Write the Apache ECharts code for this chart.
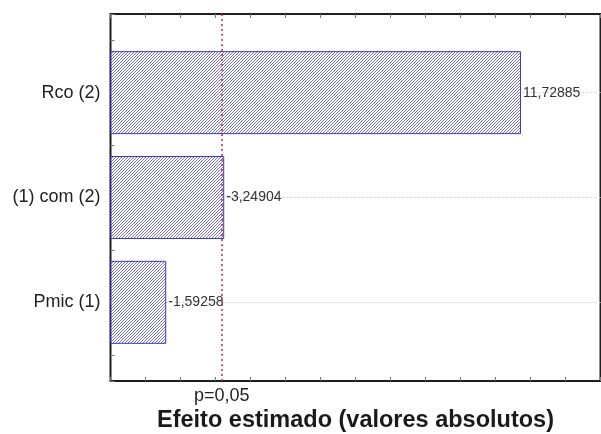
<!DOCTYPE html>
<html>
<head>
<meta charset="utf-8">
<script src="https://cdn.jsdelivr.net/npm/echarts@6/dist/echarts.min.js"></script>
<style>
  html, body { margin: 0; padding: 0; background: #fff; }
  #chart { width: 601px; height: 434px; }
</style>
</head>
<body>
<div id="chart"></div>
<script>
// Pareto chart of standardized effects
const factors = ['Pmic (1)', '(1) com (2)', 'Rco (2)'];
const effects = [-1.59258, -3.24904, 11.72885];
const pCritical = 3.182;          // t(0.025; 3 g.l.)
const pLabel = 'p=0,05';
const xMin = 0, xMax = 14, xStep = 1;
const axisTitle = 'Efeito estimado (valores absolutos)';

// Each factor sits on every 4th slot of the vertical axis so ticks fall every quarter step
const SUB = 4, FIRST = 3;
const slotCount = FIRST * 2 + (factors.length - 1) * SUB + 1;
const slotNames = [];
const barData = [];
const isFactorSlot = i => i >= FIRST && (i - FIRST) % SUB === 0 && (i - FIRST) / SUB < factors.length;
for (let i = 0; i < slotCount; i++) {
  if (isFactorSlot(i)) {
    const k = (i - FIRST) / SUB;
    slotNames.push(factors[k]);
    barData.push({ value: Math.abs(effects[k]), effect: effects[k] });
  } else {
    slotNames.push('_' + i);
    barData.push('-');
  }
}

// Diagonal hatch fill
function hatch() {
  const s = 3;
  const c = document.createElement('canvas');
  c.width = s; c.height = s;
  const g = c.getContext('2d');
  g.fillStyle = '#ffffff';
  g.fillRect(0, 0, s, s);
  g.strokeStyle = '#7474b6';
  g.lineWidth = 1;
  g.beginPath();
  g.moveTo(0, s); g.lineTo(s, 0);
  g.moveTo(-1, 1); g.lineTo(1, -1);
  g.moveTo(s - 1, s + 1); g.lineTo(s + 1, s - 1);
  g.stroke();
  return c;
}

const fmt = v => String(v).replace('.', ',');
const font = 'Liberation Sans, Arial, sans-serif';

const chart = echarts.init(document.getElementById('chart'), null, { renderer: 'canvas' });
chart.setOption({
  animation: false,
  backgroundColor: '#ffffff',
  grid: {
    left: 110.5, top: 14, width: 490, bottom: 53,
    outerBoundsMode: 'none', containLabel: false,
    show: true, borderColor: '#1e1e1e', borderWidth: 2, backgroundColor: 'transparent'
  },
  xAxis: [{
    type: 'value', min: xMin, max: xMax, interval: xStep, position: 'bottom',
    axisLine: { show: false },
    axisTick: { show: true, inside: true, length: 4, lineStyle: { color: '#777' } },
    axisLabel: { show: false },
    splitLine: { show: false },
    name: axisTitle, nameLocation: 'middle', nameGap: 28,
    nameTextStyle: { fontFamily: font, fontSize: 23.5, fontWeight: 'bold', color: '#1a1a1a' }
  }, {
    type: 'value', min: xMin, max: xMax, interval: xStep, position: 'top',
    axisLine: { show: false },
    axisTick: { show: true, inside: true, length: 4, lineStyle: { color: '#777' } },
    axisLabel: { show: false },
    splitLine: { show: false }
  }],
  yAxis: {
    type: 'category', data: slotNames, boundaryGap: false,
    axisLine: { show: false },
    axisTick: { show: true, inside: true, length: 4, interval: 0, lineStyle: { color: '#777' } },
    axisLabel: {
      interval: (i) => isFactorSlot(i), margin: 10,
      fontFamily: font, fontSize: 18, color: '#222'
    },
    splitLine: {
      show: true, interval: (i) => isFactorSlot(i),
      lineStyle: { color: '#cfcfcf', type: [2, 2], width: 1 }
    }
  },
  series: [{
    type: 'bar',
    xAxisIndex: 0,
    data: barData,
    barWidth: 83,
    itemStyle: {
      color: { image: hatch(), repeat: 'repeat' },
      borderColor: '#3a3ad0', borderWidth: 1
    },
    label: {
      show: true, position: 'right', distance: 2,
      fontFamily: font, fontSize: 14, color: '#333',
      formatter: p => fmt(p.data.effect)
    },
    markLine: {
      silent: true, symbol: 'none',
      lineStyle: { color: '#c42a48', type: [2, 3], width: 1.5 },
      label: {
        show: true, position: 'start', distance: 6,
        formatter: pLabel, fontFamily: font, fontSize: 18, color: '#222'
      },
      data: [{ xAxis: pCritical }]
    }
  }]
});
</script>
</body>
</html>
